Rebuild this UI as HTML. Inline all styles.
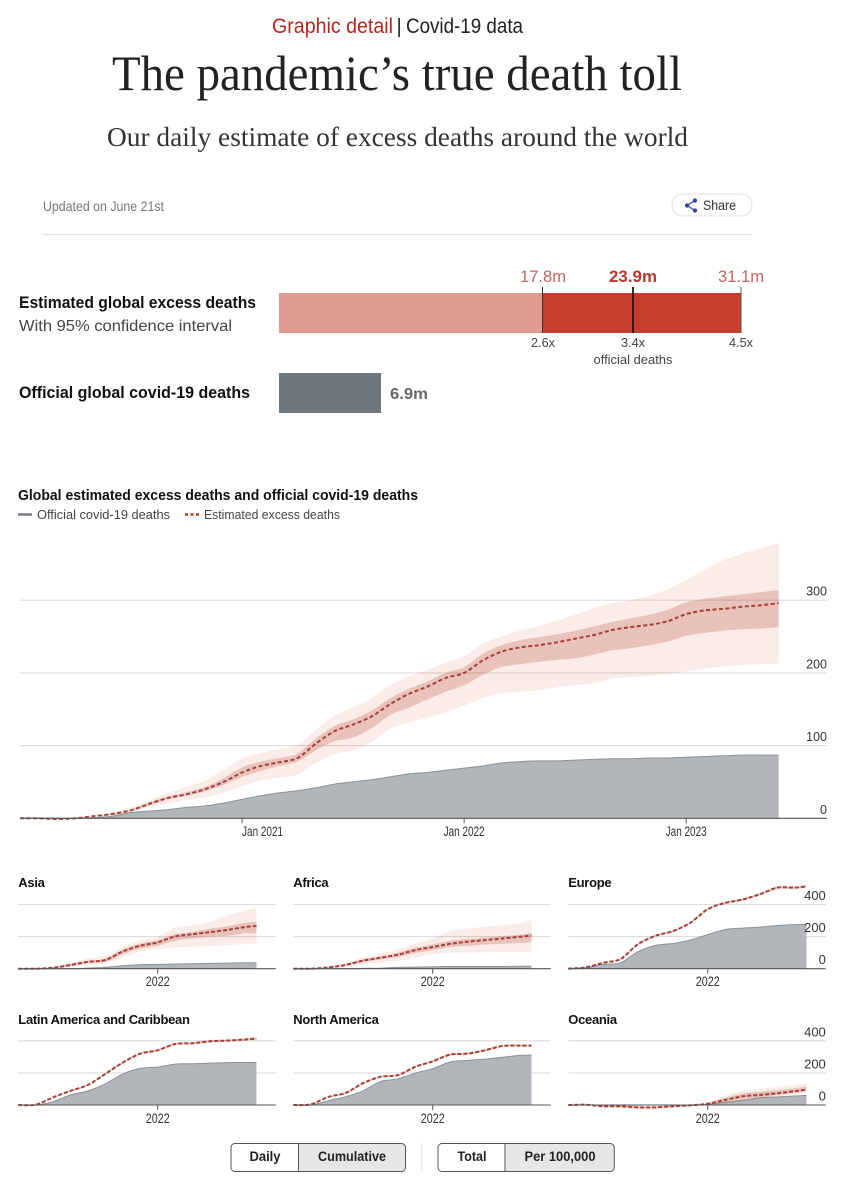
<!DOCTYPE html>
<html lang="en">
<head>
<meta charset="utf-8">
<title>The pandemic's true death toll</title>
<style>
html,body{margin:0;padding:0;background:#fff;width:862px;height:1200px;overflow:hidden}
svg{display:block}
text{font-family:"Liberation Sans Narrow","Liberation Sans",sans-serif;fill:#222}
.serif{font-family:"Liberation Serif",serif}
.b{font-weight:bold}
</style>
</head>
<body>
<svg id="page" xmlns="http://www.w3.org/2000/svg" width="862" height="1200" viewBox="0 0 862 1200">
  <g>
    <text x="272" y="33" font-size="21" textLength="121" lengthAdjust="spacingAndGlyphs" style="fill:#b5261e">Graphic detail</text>
    <text x="396.500" y="33" font-size="20">|</text>
    <text x="406" y="33" font-size="21" textLength="117" lengthAdjust="spacingAndGlyphs">Covid-19 data</text>
    <text class="serif" x="112" y="90" font-size="50" textLength="570" lengthAdjust="spacingAndGlyphs">The pandemic’s true death toll</text>
    <text class="serif" x="107" y="146" font-size="27.500" textLength="581" lengthAdjust="spacingAndGlyphs" style="fill:#333">Our daily estimate of excess deaths around the world</text>
    <text x="43" y="211" font-size="14" textLength="121" lengthAdjust="spacingAndGlyphs" style="fill:#777">Updated on June 21st</text>
    <g>
      <rect x="672" y="194" width="80" height="22" rx="11" fill="#fff" stroke="#e0e0e0"/>
      <g stroke="#2e459c" stroke-width="1.200" fill="#2e459c">
        <path d="M695 200.500L687 205.500L695 210.500" fill="none"/>
        <circle cx="695" cy="200.500" r="1.500"/><circle cx="687" cy="205.500" r="1.500"/><circle cx="695" cy="210.500" r="1.500"/>
      </g>
      <text x="703" y="210" font-size="14" textLength="33" lengthAdjust="spacingAndGlyphs" style="fill:#333">Share</text>
    </g>
    <line x1="43" x2="752" y1="234.500" y2="234.500" stroke="#e2e2e2" stroke-width="1.200"/>
  </g>

  <g>
    <text class="b" x="19" y="308" font-size="17" textLength="237" lengthAdjust="spacingAndGlyphs" style="fill:#111">Estimated global excess deaths</text>
    <text x="19" y="331" font-size="16" textLength="213" lengthAdjust="spacingAndGlyphs" style="fill:#444">With 95% confidence interval</text>
    <rect x="279" y="293" width="263" height="40" fill="#e09b91"/>
    <rect x="542" y="293" width="199" height="40" fill="#c63f2b"/>
    <line x1="542.500" x2="542.500" y1="287" y2="333" stroke="#333" stroke-width="1"/>
    <line x1="633" x2="633" y1="287" y2="333" stroke="#1a1a1a" stroke-width="1.800"/>
    <line x1="741" x2="741" y1="287" y2="333" stroke="#555" stroke-width="1"/>
    <text x="543" y="282" font-size="17" text-anchor="middle" textLength="46" lengthAdjust="spacingAndGlyphs" style="fill:#c0675e">17.8m</text>
    <text class="b" x="633" y="282" font-size="17" text-anchor="middle" textLength="48" lengthAdjust="spacingAndGlyphs" style="fill:#b53a2c">23.9m</text>
    <text x="741" y="282" font-size="17" text-anchor="middle" textLength="46" lengthAdjust="spacingAndGlyphs" style="fill:#c0675e">31.1m</text>
    <text x="543" y="347" font-size="13" text-anchor="middle" textLength="24" lengthAdjust="spacingAndGlyphs" style="fill:#444">2.6x</text>
    <text x="633" y="347" font-size="13" text-anchor="middle" textLength="24" lengthAdjust="spacingAndGlyphs" style="fill:#444">3.4x</text>
    <text x="741" y="347" font-size="13" text-anchor="middle" textLength="24" lengthAdjust="spacingAndGlyphs" style="fill:#444">4.5x</text>
    <text x="633" y="364" font-size="13" text-anchor="middle" textLength="79" lengthAdjust="spacingAndGlyphs" style="fill:#444">official deaths</text>
    <text class="b" x="19" y="398" font-size="17" textLength="231" lengthAdjust="spacingAndGlyphs" style="fill:#111">Official global covid-19 deaths</text>
    <rect x="279" y="373" width="102" height="40" fill="#6f777d"/>
    <text class="b" x="390" y="399" font-size="16" textLength="38" lengthAdjust="spacingAndGlyphs" style="fill:#666">6.9m</text>
  </g>

  <g>
    <text class="b" x="18" y="500" font-size="15" textLength="400" lengthAdjust="spacingAndGlyphs" style="fill:#111">Global estimated excess deaths and official covid-19 deaths</text>
    <g>
      <line x1="18" x2="32" y1="514.500" y2="514.500" stroke="#777f85" stroke-width="2.500"/>
      <text x="37" y="519" font-size="13" textLength="133" lengthAdjust="spacingAndGlyphs" style="fill:#444">Official covid-19 deaths</text>
    </g>
    <g>
      <line x1="185" x2="199" y1="514.500" y2="514.500" stroke="#b5392b" stroke-width="2.500" stroke-dasharray="3 2.500"/>
      <text x="204" y="519" font-size="13" textLength="136" lengthAdjust="spacingAndGlyphs" style="fill:#444">Estimated excess deaths</text>
    </g>
  </g>

  <g id="main-chart"></g>
  <g id="panels"></g>

  <g>
    <g>
      <path d="M298.500 1143.500H235a4 4 0 0 0-4 4v20a4 4 0 0 0 4 4h63.500z" fill="#fff" stroke="#555"/>
      <text class="b" x="265" y="1161" font-size="13.500" text-anchor="middle" textLength="31" lengthAdjust="spacingAndGlyphs" style="font-family:'Liberation Sans',sans-serif">Daily</text>
    </g>
    <g>
      <path d="M298.500 1143.500H401.500a4 4 0 0 1 4 4v20a4 4 0 0 1-4 4H298.500z" fill="#e6e6e6" stroke="#555"/>
      <text class="b" x="352" y="1161" font-size="13.500" text-anchor="middle" textLength="68" lengthAdjust="spacingAndGlyphs" style="font-family:'Liberation Sans',sans-serif">Cumulative</text>
    </g>
  </g>
  <line x1="421.700" x2="421.700" y1="1143" y2="1171" stroke="#e2e2e2" stroke-width="1.200"/>
  <g>
    <g>
      <path d="M505 1143.500H442a4 4 0 0 0-4 4v20a4 4 0 0 0 4 4h63z" fill="#fff" stroke="#555"/>
      <text class="b" x="472" y="1161" font-size="13.500" text-anchor="middle" textLength="29" lengthAdjust="spacingAndGlyphs" style="font-family:'Liberation Sans',sans-serif">Total</text>
    </g>
    <g>
      <path d="M505 1143.500H610.300a4 4 0 0 1 4 4v20a4 4 0 0 1-4 4H505z" fill="#e6e6e6" stroke="#555"/>
      <text class="b" x="560" y="1161" font-size="13.500" text-anchor="middle" textLength="71" lengthAdjust="spacingAndGlyphs" style="font-family:'Liberation Sans',sans-serif">Per 100,000</text>
    </g>
  </g>
</svg>

<script>
// ---------- Main chart data (thousands per month index since Jan 2020) ----------
const mainMonths = [0,1,2,3,4,5,6,7,8,9,10,11,12,13,14,15,16,17,18,19,20,21,22,23,24,25,26,27,28,29,30,31,32,33,34,35,36,37,38,39,40,41];
const mainEstimate = [0,0,-1,0,3,6,11,20,28,33,40,50,63,72,77,83,103,120,129,140,157,171,181,193,200,217,229,235,238,242,247,252,259,263,266,271,281,286,288,291,293,296];
const mainOuterUpper = [0,0,0,0,4,8,15,25,35,43,52,67,82,90,95,101,122,141,153,165,183,195,204,214,223,240,250,258,264,272,280,289,296,300,306,315,328,342,355,364,371,379];
const mainOuterLower = [0,0,-2,0,2,4,8,15,20,25,29,35,44,52,56,60,76,88,94,105,123,132,138,146,155,165,172,174,176,180,183,186,192,194,196,199,202,206,209,211,212,213];
const mainInnerUpper = [0,0,0,0,3,7,12,22,30,36,43,55,70,78,83,89,110,127,136,148,165,178,188,200,208,226,238,245,249,253,258,264,270,275,280,287,297,302,305,308,311,314];
const mainInnerLower = [0,0,-1,0,3,5,10,18,26,31,37,46,57,65,72,78,94,106,111,124,142,152,163,174,183,197,208,212,215,218,220,225,231,234,238,243,251,255,258,260,261,263];
const mainOfficial = [0,0,0,0,1,3,8,10,12,15,17,21,26,31,35,38,42,47,50,53,57,61,63,66,69,72,76,78,79,79,80,81,82,82,83,83,84,85,86,87,87,87];
const mainYTicks = [0,100,200,300];
const mainXTickMonths = [12,24,36];
const mainXTickLabels = ["Jan 2021","Jan 2022","Jan 2023"];

// ---------- Regional panels data (per 100,000, sampled every three months) ----------
const panelMonths = [0,3,6,9,12,15,18,21,24,27,30,33,36,39,41];
const panelYTicks = [0,200,400];
const panelXTickMonth = 24;
const panelXTickLabel = "2022";

const asiaEstimate = [0,0,6,23,43,54,108,143,164,201,215,228,242,259,267];
const asiaOuterUpper = [0,0,12,37,64,79,137,174,199,257,271,292,333,360,381];
const asiaOuterLower = [0,-2,0,10,23,31,70,106,122,133,137,141,147,153,153];
const asiaInnerUpper = [0,0,10,31,50,62,120,157,178,215,230,250,265,286,292];
const asiaInnerLower = [0,-2,2,17,35,43,91,126,143,174,189,199,205,220,220];
const asiaOfficial = [0,0,0,0,4,8,19,25,27,29,31,33,35,37,37];

const africaEstimate = [0,0,8,23,50,68,87,116,135,155,168,178,188,199,207];
const africaOuterUpper = [0,0,12,37,68,95,120,157,188,234,250,261,271,282,302];
const africaOuterLower = [0,0,4,12,25,37,50,70,90,99,101,103,105,105,106];
const africaInnerUpper = [0,0,10,29,58,78,100,130,152,174,186,194,203,213,222];
const africaInnerLower = [0,0,6,21,41,58,72,97,116,135,143,150,155,160,165];
const africaOfficial = [0,0,0,0,2,4,8,10,12,14,14,14,14,15,15];

const europeEstimate = [0,8,37,60,153,205,234,286,371,410,431,464,505,505,513];
const europeOuterUpper = [0,9,40,64,158,211,240,293,378,418,440,474,516,517,526];
const europeOuterLower = [0,7,34,56,148,199,228,279,364,402,422,454,494,493,500];
const europeInnerUpper = [0,8,38,62,155,208,237,289,374,413,435,468,510,510,518];
const europeInnerLower = [0,8,36,58,151,202,231,283,368,407,427,460,500,500,508];
const europeOfficial = [0,6,27,37,106,145,157,178,213,244,253,259,269,275,277];

const latamEstimate = [0,2,48,88,125,194,265,320,341,380,385,397,401,408,414];
const latamOuterUpper = [0,3,52,94,131,201,273,329,350,389,394,406,411,418,424];
const latamOuterLower = [0,1,44,82,119,187,257,311,332,371,376,388,391,398,404];
const latamInnerUpper = [0,2,50,91,128,197,269,324,345,384,389,401,406,413,419];
const latamInnerLower = [0,2,46,85,122,191,261,316,337,376,381,393,396,403,409];
const latamOfficial = [0,0,21,63,88,132,194,228,236,255,257,261,264,265,265];

const northAmericaEstimate = [0,4,50,75,136,176,186,238,272,314,320,341,368,370,370];
const northAmericaOuterUpper = [0,5,54,81,142,183,193,245,280,322,328,349,376,378,378];
const northAmericaOuterLower = [0,3,46,69,130,169,179,231,264,306,312,333,360,362,362];
const northAmericaInnerUpper = [0,4,52,78,139,179,189,241,276,318,324,345,372,374,374];
const northAmericaInnerLower = [0,4,48,72,133,173,183,235,268,310,316,337,364,366,366];
const northAmericaOfficial = [0,0,27,52,88,146,163,199,226,268,278,286,297,309,311];

const oceaniaEstimate = [0,2,-8,-8,-15,-15,-8,-2,8,31,54,63,73,86,96];
const oceaniaOuterUpper = [0,3,-4,-2,-5,-5,0,4,17,59,88,100,113,125,136];
const oceaniaOuterLower = [0,0,-12,-21,-27,-25,-17,-10,0,10,21,36,50,67,73];
const oceaniaInnerUpper = [0,2,-6,-5,-10,-10,-4,1,12,45,71,82,93,105,116];
const oceaniaInnerLower = [0,1,-10,-12,-20,-20,-12,-6,4,20,38,50,62,76,84];
const oceaniaOfficial = [0,0,0,0,0,0,0,0,4,17,31,46,50,56,60];

const regionNames = ["Asia","Africa","Europe","Latin America and Caribbean","North America","Oceania"];
const regionEstimates = [asiaEstimate,africaEstimate,europeEstimate,latamEstimate,northAmericaEstimate,oceaniaEstimate];
const regionOuterUppers = [asiaOuterUpper,africaOuterUpper,europeOuterUpper,latamOuterUpper,northAmericaOuterUpper,oceaniaOuterUpper];
const regionOuterLowers = [asiaOuterLower,africaOuterLower,europeOuterLower,latamOuterLower,northAmericaOuterLower,oceaniaOuterLower];
const regionInnerUppers = [asiaInnerUpper,africaInnerUpper,europeInnerUpper,latamInnerUpper,northAmericaInnerUpper,oceaniaInnerUpper];
const regionInnerLowers = [asiaInnerLower,africaInnerLower,europeInnerLower,latamInnerLower,northAmericaInnerLower,oceaniaInnerLower];
const regionOfficials = [asiaOfficial,africaOfficial,europeOfficial,latamOfficial,northAmericaOfficial,oceaniaOfficial];

const NS = 'http://www.w3.org/2000/svg';
function make(tag, parent, attrs) {
  const el = document.createElementNS(NS, tag);
  for (const k in attrs) el.setAttribute(k, attrs[k]);
  parent.appendChild(el);
  return el;
}
// Smooth curve through the given points (Catmull-Rom converted to cubic Beziers).
function curve(pts, lead) {
  const k = 1 / 7;
  let d = lead + pts[0][0].toFixed(1) + ' ' + pts[0][1].toFixed(1);
  for (let i = 0; i < pts.length - 1; i++) {
    const p0 = pts[Math.max(i - 1, 0)], p1 = pts[i], p2 = pts[i + 1], p3 = pts[Math.min(i + 2, pts.length - 1)];
    d += 'C' + (p1[0] + (p2[0] - p0[0]) * k).toFixed(1) + ' ' + (p1[1] + (p2[1] - p0[1]) * k).toFixed(1) + ' ' +
         (p2[0] - (p3[0] - p1[0]) * k).toFixed(1) + ' ' + (p2[1] - (p3[1] - p1[1]) * k).toFixed(1) + ' ' +
         p2[0].toFixed(1) + ' ' + p2[1].toFixed(1);
  }
  return d;
}
function points(months, values, x, y) {
  return months.map((m, i) => [x(m), y(values[i])]);
}
function linePath(months, values, x, y) {
  return curve(points(months, values, x, y), 'M');
}
function bandPath(months, upper, lower, x, y) {
  return curve(points(months, upper, x, y), 'M') + curve(points(months, lower, x, y).reverse(), 'L') + 'Z';
}
function drawSeries(g, months, series, x, y, dash, width) {
  const n = months.length - 1;
  const area = make('path', g, {
    d: linePath(months, series.official, x, y) + 'L' + x(months[n]).toFixed(1) + ' ' + y(0).toFixed(1) + 'L' + x(months[0]).toFixed(1) + ' ' + y(0).toFixed(1) + 'Z',
    fill: '#b0b6ba'
  });
  
  
  const officialLine = make('path', g, {
    d: linePath(months, series.official, x, y), fill: 'none', stroke: '#8b9398', 'stroke-width': 1
  });
  
  
  const outer = make('path', g, {
    d: bandPath(months, series.outerUpper, series.outerLower, x, y), fill: '#c8402c', 'fill-opacity': 0.1
  });
  
  
  const inner = make('path', g, {
    d: bandPath(months, series.innerUpper, series.innerLower, x, y), fill: '#b8402c', 'fill-opacity': 0.24
  });
  
  
  const est = make('path', g, {
    d: linePath(months, series.estimate, x, y), fill: 'none', stroke: '#a5403a', 'stroke-width': width, 'stroke-dasharray': dash
  });
  
  
}

// ---------- Main chart ----------
(function () {
  const g = document.getElementById('main-chart');
  const x = m => 20 + m * (758.7 / 41);
  const y = v => 818.3 - v * 0.727;
  mainYTicks.forEach(t => {
    if (t !== 0) {
      const grid = make('line', g, { x1: 20, x2: 827, y1: y(t), y2: y(t), stroke: '#dcdcdc', 'stroke-width': 1.1 });
      
      
    }
  });
  drawSeries(g, mainMonths, {
    estimate: mainEstimate, outerUpper: mainOuterUpper, outerLower: mainOuterLower,
    innerUpper: mainInnerUpper, innerLower: mainInnerLower, official: mainOfficial
  }, x, y, '4 2.5', 2);
  const axis = make('line', g, { x1: 20, x2: 827, y1: y(0), y2: y(0), stroke: '#555', 'stroke-width': 1.2 });
  
  
  mainYTicks.forEach(t => {
    const label = make('text', g, { x: 827, y: y(t) - 4.5, 'font-size': 12.5, 'text-anchor': 'end' });
    
    
    label.style.fill = '#333';
    label.textContent = t;
  });
  mainXTickMonths.forEach((m, i) => {
    const tick = make('line', g, { x1: x(m), x2: x(m), y1: y(0), y2: y(0) + 5, stroke: '#555', 'stroke-width': 1 });
    
    
    const label = make('text', g, {
      x: x(m), y: 836, 'font-size': 13.5, 'text-anchor': i === 0 ? 'start' : 'middle',
      textLength: 41, lengthAdjust: 'spacingAndGlyphs'
    });
    
    
    label.style.fill = '#333';
    label.textContent = mainXTickLabels[i];
  });
})();

// ---------- Regional panels ----------
(function () {
  const root = document.getElementById('panels');
  regionNames.forEach((name, idx) => {
    const col = idx % 3;
    const row = Math.floor(idx / 3);
    const left = 18.3 + col * 275;
    const base = row === 0 ? 968.7 : 1105;
    const x = m => left + m * (238.2 / 41);
    const y = v => base - v * 0.1605;
    const g = make('g', root, {});
    
    
    const title = make('text', g, { x: left, y: row === 0 ? 887 : 1024, 'font-size': 13, 'font-weight': 'bold' });
    
    
    title.style.fill = '#111';
    title.style.fontFamily = '"Liberation Sans",sans-serif';
    title.style.letterSpacing = '-0.3px';
    title.textContent = name;
    panelYTicks.forEach(t => {
      if (t !== 0) {
        const grid = make('line', g, { x1: left, x2: left + 257.5, y1: y(t), y2: y(t), stroke: '#dcdcdc', 'stroke-width': 1.1 });
        
        
      }
    });
    drawSeries(g, panelMonths, {
      estimate: regionEstimates[idx], outerUpper: regionOuterUppers[idx], outerLower: regionOuterLowers[idx],
      innerUpper: regionInnerUppers[idx], innerLower: regionInnerLowers[idx], official: regionOfficials[idx]
    }, x, y, '4 2', 2);
    const axis = make('line', g, { x1: left, x2: left + 257.5, y1: y(0), y2: y(0), stroke: '#555', 'stroke-width': 1.1 });
    
    
    const tick = make('line', g, { x1: x(panelXTickMonth), x2: x(panelXTickMonth), y1: y(0), y2: y(0) + 5, stroke: '#555', 'stroke-width': 1 });
    
    
    const xLabel = make('text', g, { x: x(panelXTickMonth), y: row === 0 ? 986 : 1123, 'font-size': 13.5, 'text-anchor': 'middle', textLength: 24, lengthAdjust: 'spacingAndGlyphs' });
    
    
    xLabel.style.fill = '#333';
    xLabel.textContent = panelXTickLabel;
    if (col === 2) {
      panelYTicks.forEach(t => {
        const yLabel = make('text', g, { x: left + 257.5, y: y(t) - 4.5, 'font-size': 13, 'text-anchor': 'end' });
        
        
        yLabel.style.fill = '#333';
        yLabel.textContent = t;
      });
    }
  });
})();
</script>
</body>
</html>
